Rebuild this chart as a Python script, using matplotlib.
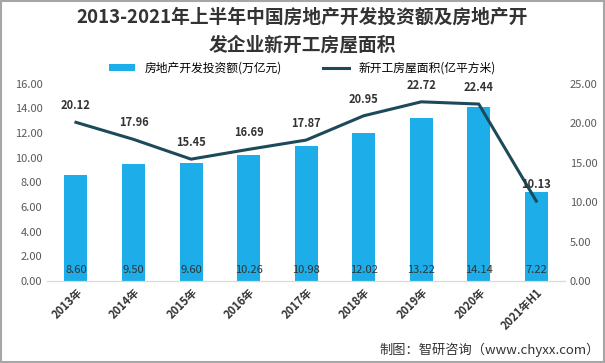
import matplotlib
matplotlib.use("Agg")
import matplotlib.pyplot as plt
import numpy as np

plt.rcParams['font.family'] = ['Noto Sans CJK SC', 'DejaVu Sans']

years = ["2013年", "2014年", "2015年", "2016年", "2017年", "2018年", "2019年", "2020年", "2021年H1"]
invest = [8.60, 9.50, 9.60, 10.26, 10.98, 12.02, 13.22, 14.14, 7.22]
area = [20.12, 17.96, 15.45, 16.69, 17.87, 20.95, 22.72, 22.44, 10.13]

bar_color = "#1DADE8"
line_color = "#1C4A5A"

fig = plt.figure(figsize=(6.05, 3.63), dpi=100)
ax = fig.add_axes([0.078, 0.226, 0.856, 0.543])
ax2 = ax.twinx()

x = np.arange(len(years))
ax.bar(x, invest, width=0.4, color=bar_color, label="房地产开发投资额(万亿元)", zorder=2)
ax2.plot(x, area, color=line_color, lw=2.2, label="新开工房屋面积(亿平方米)", zorder=3)

for xi, v in zip(x, invest):
    ax.text(xi, 0.45, f"{v:.2f}", ha="center", va="bottom", fontsize=8, color="#333333")
for xi, v in zip(x, area):
    ax2.text(xi, v + 1.3, f"{v:.2f}", ha="center", va="bottom", fontsize=8,
             fontweight="bold", color="#333333")

ax.set_xlim(-0.5, len(years) - 0.5)
ax.set_ylim(0, 16)
ax.set_yticks(np.arange(0, 17, 2))
ax.set_yticklabels([f"{t:.2f}" for t in np.arange(0, 17, 2)])
ax2.set_ylim(0, 25)
ax2.set_yticks(np.arange(0, 26, 5))
ax2.set_yticklabels([f"{t:.2f}" for t in np.arange(0, 26, 5)])

ax.set_xticks(x)
ax.set_xticklabels(years, rotation=45, ha="right", rotation_mode="anchor",
                   fontsize=8, fontweight="bold", color="#333333")

for a in (ax, ax2):
    for s in ["top", "left", "right"]:
        a.spines[s].set_visible(False)
    a.spines["bottom"].set_color("#D9D9D9")
    a.tick_params(axis="y", length=0, labelsize=8, labelcolor="#595959")
    a.tick_params(axis="x", length=0)

fig.text(0.5, 0.952, "2013-2021年上半年中国房地产开发投资额及房地产开",
         ha="center", va="center", fontsize=13.5, fontweight="bold", color="#333333")
fig.text(0.5, 0.875, "发企业新开工房屋面积",
         ha="center", va="center", fontsize=13.5, fontweight="bold", color="#333333")

h1, l1 = ax.get_legend_handles_labels()
h2, l2 = ax2.get_legend_handles_labels()
fig.legend(h1 + h2, l1 + l2, loc="center", bbox_to_anchor=(0.5, 0.812), ncol=2,
           frameon=False, fontsize=8.5, handlelength=2.2, columnspacing=3.5,
           handleheight=0.6)

fig.text(0.992, 0.035, "制图：智研咨询（www.chyxx.com）", ha="right", va="center",
         fontsize=9.5, color="#333333")

border = plt.Rectangle((0.002, 0.003), 0.996, 0.994, transform=fig.transFigure,
                       fill=False, edgecolor="#A6A6A6", lw=1.5)
fig.patches.append(border)

fig.savefig("out.png", dpi=100)
